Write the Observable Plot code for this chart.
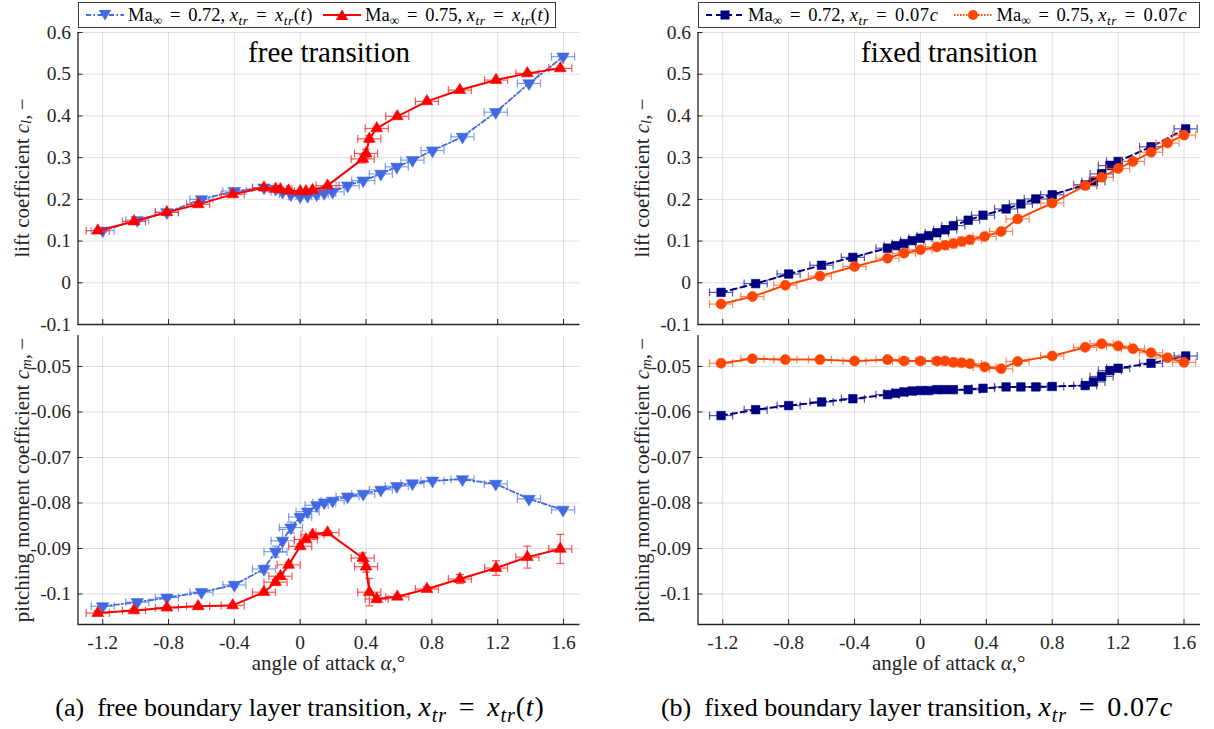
<!DOCTYPE html>
<html><head><meta charset="utf-8">
<script src="https://cdn.jsdelivr.net/npm/d3@7"></script>
<script src="https://cdn.jsdelivr.net/npm/@observablehq/plot@0.6"></script>
<style>
body{margin:0;background:#fff;}
#root{position:relative;width:1214px;height:729px;font-family:"Liberation Serif","Times New Roman",serif;color:#000;overflow:hidden;background:#fff}
.panel{position:absolute}
.panel svg{overflow:visible}
.legend{position:absolute;top:2px;height:26px;border:1px solid #3a3a3a;background:#fff;display:flex;align-items:center;font-size:18.5px;white-space:nowrap;z-index:3;box-sizing:border-box;padding-left:6px}
.legend svg{flex:none;margin-right:3px}
.legend span.t{margin-right:9px}
sub{font-size:72%;vertical-align:-0.28em;line-height:0}
.m{letter-spacing:0.03em}
.eq{margin:0 0.42em}
.cap{position:absolute;top:691px;font-size:26px;text-align:center;white-space:nowrap}
.cap .m{font-size:108%}
#overlay{position:absolute;left:0;top:0;z-index:2;pointer-events:none}
</style></head>
<body><div id="root">
<div class="legend" style="left:78px;width:478px">
 <svg width="40" height="20"><line x1="1" y1="10" x2="39" y2="10" stroke="#4169E1" stroke-width="1.8" stroke-dasharray="5,2.5,1.5,2.5"/><path d="M20,15.5L13.8,5L26.2,5Z" fill="#4169E1"/></svg>
 <span class="t">Ma<sub>∞</sub><span class="eq">=</span>0.72, <span class="m"><i>x<sub>tr</sub></i><span class="eq">=</span><i>x<sub>tr</sub></i>(<i>t</i>)</span></span>
 <svg width="40" height="20"><line x1="1" y1="10" x2="39" y2="10" stroke="#FF0000" stroke-width="2"/><path d="M20,4.5L26.2,15L13.8,15Z" fill="#FF0000"/></svg>
 <span class="t">Ma<sub>∞</sub><span class="eq">=</span>0.75, <span class="m"><i>x<sub>tr</sub></i><span class="eq">=</span><i>x<sub>tr</sub></i>(<i>t</i>)</span></span>
</div>
<div class="legend" style="left:698px;width:502px">
 <svg width="40" height="20"><line x1="1" y1="10" x2="39" y2="10" stroke="#000080" stroke-width="2" stroke-dasharray="6,4"/><rect x="15.5" y="5.5" width="9" height="9" fill="#000080"/></svg>
 <span class="t" style="margin-right:15px">Ma<sub>∞</sub><span class="eq">=</span>0.72, <span class="m"><i>x<sub>tr</sub></i><span class="eq">=</span>0.07<i>c</i></span></span>
 <svg width="40" height="20"><line x1="1" y1="10" x2="39" y2="10" stroke="#FF4500" stroke-width="2" stroke-dasharray="1.5,1.5"/><circle cx="20" cy="10" r="5" fill="#FF4500"/></svg>
 <span class="t">Ma<sub>∞</sub><span class="eq">=</span>0.75, <span class="m"><i>x<sub>tr</sub></i><span class="eq">=</span>0.07<i>c</i></span></span>
</div>
<div id="lt" class="panel" style="left:0;top:0"></div>
<div id="lb" class="panel" style="left:0;top:330px"></div>
<div id="rt" class="panel" style="left:620px;top:0"></div>
<div id="rb" class="panel" style="left:620px;top:330px"></div>
<svg id="overlay" width="1214" height="729"></svg>
<div class="cap" style="left:0;width:600px">(a)&nbsp; free boundary layer transition, <span class="m"><i>x<sub>tr</sub></i><span class="eq">=</span><i>x<sub>tr</sub></i>(<i>t</i>)</span></div>
<div class="cap" style="left:620px;width:594px">(b)&nbsp; fixed boundary layer transition, <span class="m"><i>x<sub>tr</sub></i><span class="eq">=</span>0.07<i>c</i></span></div>
</div>
<script>
// ---------- data ----------
const xDomain = [-1.35, 1.70];
const xTicks = [-1.2, -0.8, -0.4, 0, 0.4, 0.8, 1.2, 1.6];
const clDomain = [-0.1, 0.6];
const clTicks = [-0.1, 0, 0.1, 0.2, 0.3, 0.4, 0.5, 0.6];
const cmDomain = [-0.1067, -0.0432];
const cmTicks = [-0.1, -0.09, -0.08, -0.07, -0.06, -0.05];
const alphaErr = 0.07;

// free transition, Ma 0.72
const alpha72f = [-1.20, -0.99, -0.81, -0.60, -0.40, -0.22, -0.15, -0.107, -0.056, 0.00, 0.045, 0.10, 0.146, 0.197, 0.288, 0.383, 0.49, 0.587, 0.682, 0.804, 0.986, 1.188, 1.39, 1.597];
const cl72f = [0.125, 0.150, 0.169, 0.200, 0.220, 0.228, 0.225, 0.218, 0.212, 0.207, 0.208, 0.212, 0.215, 0.218, 0.233, 0.245, 0.261, 0.278, 0.294, 0.317, 0.350, 0.409, 0.478, 0.542];
const cm72f = [-0.1027, -0.1018, -0.1008, -0.0996, -0.0980, -0.0945, -0.0907, -0.0883, -0.0854, -0.0831, -0.0819, -0.0805, -0.0799, -0.0795, -0.0786, -0.0780, -0.0771, -0.0763, -0.0757, -0.0751, -0.0748, -0.0758, -0.0791, -0.0815];
const cl72fErr = [0.003, 0.003, 0.003, 0.003, 0.003, 0.003, 0.004, 0.004, 0.004, 0.003, 0.003, 0.003, 0.003, 0.003, 0.003, 0.003, 0.003, 0.003, 0.003, 0.003, 0.003, 0.003, 0.003, 0.003];
const cm72fErr = [0.0004, 0.0004, 0.0004, 0.0004, 0.0005, 0.0008, 0.0012, 0.0025, 0.0012, 0.0008, 0.0006, 0.0005, 0.0004, 0.0004, 0.0004, 0.0004, 0.0004, 0.0004, 0.0004, 0.0004, 0.0004, 0.0004, 0.0004, 0.0004];

// free transition, Ma 0.75
const alpha75f = [-1.23, -1.01, -0.81, -0.62, -0.41, -0.22, -0.15, -0.12, -0.07, 0.00, 0.035, 0.075, 0.166, 0.38, 0.40, 0.42, 0.465, 0.59, 0.77, 0.97, 1.19, 1.38, 1.58];
const cl75f = [0.125, 0.147, 0.169, 0.188, 0.212, 0.228, 0.225, 0.224, 0.221, 0.219, 0.219, 0.222, 0.233, 0.297, 0.310, 0.345, 0.370, 0.399, 0.435, 0.462, 0.486, 0.502, 0.514];
const cm75f = [-0.1042, -0.1036, -0.1030, -0.1027, -0.1025, -0.0996, -0.0974, -0.0961, -0.0936, -0.0895, -0.0880, -0.0870, -0.0865, -0.0921, -0.0940, -0.0996, -0.1011, -0.1006, -0.0989, -0.0967, -0.0943, -0.0919, -0.0901];
const cl75fErr = [0.003, 0.003, 0.003, 0.003, 0.003, 0.003, 0.003, 0.003, 0.003, 0.003, 0.003, 0.003, 0.003, 0.010, 0.010, 0.008, 0.004, 0.003, 0.003, 0.003, 0.003, 0.003, 0.003];
const cm75fErr = [0.0005, 0.0004, 0.0004, 0.0004, 0.0004, 0.0005, 0.0006, 0.0006, 0.0006, 0.0005, 0.0005, 0.0005, 0.0004, 0.0011, 0.0012, 0.0030, 0.0008, 0.0005, 0.0005, 0.0010, 0.0016, 0.0024, 0.0032];

// fixed transition, Ma 0.72
const alpha72x = [-1.21, -1.00, -0.80, -0.60, -0.41, -0.20, -0.15, -0.10, -0.05, 0.00, 0.05, 0.10, 0.15, 0.20, 0.29, 0.38, 0.52, 0.61, 0.70, 0.80, 1.00, 1.05, 1.10, 1.15, 1.20, 1.40, 1.61];
const cl72x = [-0.023, -0.002, 0.021, 0.042, 0.061, 0.083, 0.089, 0.094, 0.101, 0.107, 0.113, 0.120, 0.127, 0.137, 0.150, 0.162, 0.177, 0.189, 0.201, 0.211, 0.235, 0.243, 0.261, 0.281, 0.291, 0.326, 0.369];
const cm72x = [-0.0608, -0.0595, -0.0586, -0.0578, -0.0571, -0.0562, -0.0559, -0.0556, -0.0554, -0.0553, -0.0553, -0.0551, -0.0551, -0.0551, -0.0551, -0.0548, -0.0545, -0.0545, -0.0545, -0.0544, -0.0542, -0.0534, -0.0522, -0.0509, -0.0504, -0.0493, -0.0477];
const cl72xErr = [0.003, 0.003, 0.003, 0.003, 0.003, 0.003, 0.003, 0.003, 0.003, 0.003, 0.003, 0.003, 0.003, 0.003, 0.003, 0.003, 0.003, 0.003, 0.003, 0.003, 0.005, 0.010, 0.010, 0.008, 0.005, 0.004, 0.003];
const cm72xErr = [0.0003, 0.0003, 0.0003, 0.0003, 0.0003, 0.0003, 0.0003, 0.0003, 0.0003, 0.0003, 0.0003, 0.0003, 0.0003, 0.0003, 0.0003, 0.0003, 0.0003, 0.0003, 0.0003, 0.0003, 0.0004, 0.0007, 0.0008, 0.0007, 0.0005, 0.0004, 0.0004];

// fixed transition, Ma 0.75
const alpha75x = [-1.21, -1.02, -0.82, -0.61, -0.40, -0.20, -0.10, 0.00, 0.10, 0.15, 0.20, 0.25, 0.30, 0.39, 0.49, 0.59, 0.80, 1.00, 1.10, 1.20, 1.29, 1.40, 1.50, 1.60];
const cl75x = [-0.051, -0.033, -0.006, 0.016, 0.039, 0.059, 0.071, 0.079, 0.086, 0.090, 0.094, 0.099, 0.103, 0.111, 0.123, 0.153, 0.191, 0.233, 0.253, 0.274, 0.291, 0.313, 0.335, 0.354];
const cm75x = [-0.0493, -0.0483, -0.0485, -0.0485, -0.0488, -0.0485, -0.0488, -0.0488, -0.0488, -0.0488, -0.0491, -0.0492, -0.0494, -0.0501, -0.0505, -0.0489, -0.0477, -0.0458, -0.0450, -0.0455, -0.0461, -0.0470, -0.0481, -0.0491];
const cl75xErr = [0.003, 0.003, 0.003, 0.003, 0.003, 0.003, 0.003, 0.003, 0.003, 0.003, 0.003, 0.003, 0.003, 0.003, 0.003, 0.004, 0.003, 0.003, 0.003, 0.003, 0.003, 0.003, 0.003, 0.003];
const cm75xErr = [0.0003, 0.0003, 0.0003, 0.0003, 0.0003, 0.0003, 0.0003, 0.0003, 0.0003, 0.0003, 0.0003, 0.0003, 0.0003, 0.0004, 0.0004, 0.0004, 0.0004, 0.0004, 0.0004, 0.0004, 0.0004, 0.0004, 0.0004, 0.0004];

// ---------- styles ----------
const triDown = {draw(ctx, size){const y = Math.sqrt(size/(3*Math.sqrt(3))); ctx.moveTo(0, 2*y); ctx.lineTo(-Math.sqrt(3)*y, -y); ctx.lineTo(Math.sqrt(3)*y, -y); ctx.closePath();}};
const vcap = {draw(ctx){ctx.moveTo(0,-4); ctx.lineTo(0,4);}};
const hcap = {draw(ctx){ctx.moveTo(-4,0); ctx.lineTo(4,0);}};

const S72f = {alpha: alpha72f, cl: cl72f, cm: cm72f, clErr: cl72fErr, cmErr: cm72fErr, color: "#4169E1", bar: "#5f82ea", dash: "5,2.5,1.5,2.5", width: 1.8, symbol: triDown, r: 4.6};
const S75f = {alpha: alpha75f, cl: cl75f, cm: cm75f, clErr: cl75fErr, cmErr: cm75fErr, color: "#FF0000", bar: "#ff2a2a", dash: null, width: 2, symbol: "triangle", r: 4.4};
const S72x = {alpha: alpha72x, cl: cl72x, cm: cm72x, clErr: cl72xErr, cmErr: cm72xErr, color: "#000080", bar: "#2d2d96", dash: "6,4", width: 2, symbol: "square", r: 4.8};
const S75x = {alpha: alpha75x, cl: cl75x, cm: cm75x, clErr: cl75xErr, cmErr: cm75xErr, color: "#FF4500", bar: "#ff6a33", dash: "1.5,1.5", width: 2, symbol: "circle", r: 5};

function seriesMarks(s, key) {
  const data = s.alpha.map((a, i) => ({a, y: s[key][i], e: s[key + "Err"][i]}));
  const bar = {stroke: s.bar, strokeWidth: 1.2, strokeOpacity: 0.8};
  return [
    Plot.ruleY(data, {y: "y", x1: d => d.a - alphaErr, x2: d => d.a + alphaErr, ...bar}),
    Plot.dot(data, {x: d => d.a - alphaErr, y: "y", symbol: vcap, fill: "none", ...bar}),
    Plot.dot(data, {x: d => d.a + alphaErr, y: "y", symbol: vcap, fill: "none", ...bar}),
    Plot.ruleX(data, {x: "a", y1: d => d.y - d.e, y2: d => d.y + d.e, ...bar}),
    Plot.dot(data, {x: "a", y: d => d.y - d.e, symbol: hcap, fill: "none", ...bar}),
    Plot.dot(data, {x: "a", y: d => d.y + d.e, symbol: hcap, fill: "none", ...bar}),
    Plot.line(data, {x: "a", y: "y", stroke: s.color, strokeWidth: s.width, strokeDasharray: s.dash || undefined}),
    Plot.dot(data, {x: "a", y: "y", symbol: s.symbol, r: s.r, fill: s.color, stroke: s.color, strokeWidth: 0.6})
  ];
}

const fmt = d => String(d);

function panel(el, {series, key, yDomain, yTicks, showX, width, height, mt, mb, ml, mr, title}) {
  const plotW = width - ml - mr, plotH = height - mt - mb;
  const axisColor = "#262626";
  const marks = [
    Plot.gridX(xTicks, {stroke: "#000", strokeOpacity: 0.12, strokeWidth: 1}),
    Plot.gridY(yTicks, {stroke: "#000", strokeOpacity: 0.12, strokeWidth: 1}),
    ...series.flatMap(s => seriesMarks(s, key)),
    Plot.ruleX([xDomain[0]], {stroke: axisColor, strokeWidth: 1.3}),
    Plot.ruleY([yDomain[0]], {stroke: axisColor, strokeWidth: 1.3}),
    Plot.tickX(xTicks, {x: d => d, insetTop: plotH - 5, stroke: axisColor, strokeWidth: 1}),
    Plot.tickY(yTicks, {y: d => d, insetRight: plotW - 5, stroke: axisColor, strokeWidth: 1}),
    Plot.axisY(yTicks, {tickSize: 0, tickPadding: 7, tickFormat: fmt, label: null})
  ];
  if (showX) marks.push(Plot.axisX(xTicks, {tickSize: 0, tickPadding: 11, tickFormat: fmt, label: null}));
  if (title) marks.push(Plot.text([title], {frameAnchor: "top", dy: 20, fontSize: 29, lineAnchor: "middle", fill: "#000"}));
  const p = Plot.plot({
    width, height, marginLeft: ml, marginRight: mr, marginTop: mt, marginBottom: mb,
    x: {domain: xDomain, axis: showX ? undefined : null},
    y: {domain: yDomain},
    style: {fontFamily: '"Liberation Serif","Times New Roman",serif', fontSize: "19.5px", background: "transparent", color: "#262626"},
    marks
  });
  document.getElementById(el).appendChild(p);
}

panel("lt", {series: [S72f, S75f], key: "cl", yDomain: clDomain, yTicks: clTicks, showX: false, width: 600, height: 330, mt: 32, mb: 6, ml: 77.5, mr: 20.5, title: "free transition"});
panel("lb", {series: [S72f, S75f], key: "cm", yDomain: cmDomain, yTicks: cmTicks, showX: true, width: 600, height: 345, mt: 5, mb: 51, ml: 77.5, mr: 20.5});
panel("rt", {series: [S72x, S75x], key: "cl", yDomain: clDomain, yTicks: clTicks, showX: false, width: 594, height: 330, mt: 32, mb: 6, ml: 77.5, mr: 14, title: "fixed transition"});
panel("rb", {series: [S72x, S75x], key: "cm", yDomain: cmDomain, yTicks: cmTicks, showX: true, width: 594, height: 345, mt: 5, mb: 51, ml: 77.5, mr: 14});

// ---------- axis titles ----------
const ov = d3.select("#overlay").attr("font-family", '"Liberation Serif","Times New Roman",serif').attr("font-size", 21).attr("fill", "#262626");
function ylabel(x, y, word, sub) {
  const t = ov.append("text").attr("transform", `translate(${x},${y}) rotate(-90)`).attr("text-anchor", "middle").attr("dominant-baseline", "central");
  t.append("tspan").text(word + " ");
  t.append("tspan").attr("font-style", "italic").text("c");
  t.append("tspan").attr("font-style", "italic").attr("font-size", 15).attr("dy", 4).text(sub);
  t.append("tspan").attr("dy", -4).text(",\u2009\u2212");
}
function xlabel(x, y) {
  const t = ov.append("text").attr("x", x).attr("y", y).attr("text-anchor", "middle").attr("dominant-baseline", "central");
  t.append("tspan").text("angle of attack ");
  t.append("tspan").attr("font-style", "italic").text("α");
  t.append("tspan").text(",°");
}
ylabel(22, 178, "lift coefficient", "l");
ylabel(22, 480, "pitching moment coefficient", "m");
ylabel(642, 178, "lift coefficient", "l");
ylabel(642, 480, "pitching moment coefficient", "m");
xlabel(328.5, 663);
xlabel(948.75, 663);
</script>
</body></html>
